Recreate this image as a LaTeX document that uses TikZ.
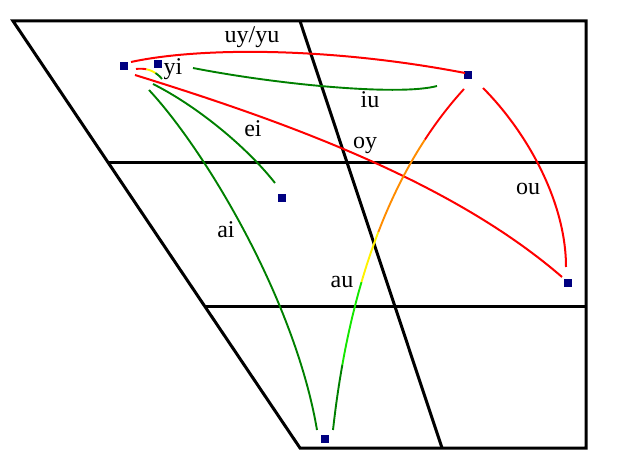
\documentclass[tikz,border=0pt]{standalone}
\usepackage{fontspec}
\setmainfont{Liberation Serif}
\usetikzlibrary{calc}

\definecolor{vowelblue}{RGB}{0,0,128}
\definecolor{glidegreen}{RGB}{0,128,0}
\definecolor{glidelime}{RGB}{20,230,0}
\definecolor{glideorange}{RGB}{255,140,0}

\tikzset{
    frame/.style={black, line width=3pt},
    vowel/.style={rectangle, fill=vowelblue, inner sep=0pt, minimum size=7.5pt},
    glide/.style={anchor=base, inner sep=0pt, font=\fontsize{24}{28}\selectfont},
    redglide/.style={red, line width=2pt},
    greenglide/.style={glidegreen, line width=1.9pt}
}

\begin{document}
\begin{tikzpicture}[x=1pt,y=-1pt]
    \useasboundingbox (0,0) rectangle (640,470);

    % quadrilateral
    \draw[frame, line join=miter] (13,21) -- (586,21) -- (586,448) -- (300,448) -- cycle;
    \draw[frame] (300,21) -- (442,448);
    \draw[frame] (108,163) -- (586,163);
    \draw[frame] (205,307) -- (586,307);

    % vowels
    \node[vowel] (i) at (124,66) {};
    \node[vowel] (y) at (158,64) {};
    \node[vowel] (u) at (468,75) {};
    \node[vowel] (e) at (282,198) {};
    \node[vowel] (o) at (568,283) {};
    \node[vowel] (a) at (325,439) {};

    % ends of the glides
    \coordinate (uy-s) at (131,62);  \coordinate (uy-e) at (465,73);
    \coordinate (iu-s) at (193,68);  \coordinate (iu-e) at (437,86);
    \coordinate (oy-s) at (135,75);  \coordinate (oy-e) at (562,277);
    \coordinate (ou-s) at (483,88);  \coordinate (ou-e) at (566,267);
    \coordinate (ei-s) at (153,84);  \coordinate (ei-e) at (275,183);
    \coordinate (ai-s) at (149,90);  \coordinate (ai-e) at (317,430);

    \draw[redglide] (uy-s) .. controls (200,47) and (330,47) .. (uy-e);
    \draw[greenglide] (iu-s) .. controls (280,85) and (400,96) .. (iu-e);
    \draw[redglide] (oy-s) .. controls (280,120) and (450,180) .. (oy-e);
    \draw[redglide] (ou-s) .. controls (525,130) and (566,200) .. (ou-e);
    \draw[greenglide] (ei-s) .. controls (195,105) and (245,145) .. (ei-e);
    \draw[greenglide] (ai-s) .. controls (205,150) and (295,300) .. (ai-e);

    % coloured glides
    \foreach \ta/\tb/\col in {0/0.2/red, 0.2/0.5/glideorange, 0.5/0.64/yellow, 0.64/0.85/glidelime, 0.85/1/glidegreen}
        \draw[line width=1.9pt, \col] plot[domain=\ta:\tb, samples=8, variable=\t, smooth]
            ({464*(1-\t)^2 + 716*\t*(1-\t) + 333*\t^2}, {89*(1-\t)^2 + 410*\t*(1-\t) + 430*\t^2});
    \foreach \ta/\tb/\col in {0/0.35/red, 0.35/0.7/yellow, 0.7/1/glidegreen}
        \draw[line width=1.9pt, \col] plot[domain=\ta:\tb, samples=6, variable=\t, smooth]
            ({136*(1-\t)^2 + 304*\t*(1-\t) + 162*\t^2}, {69*(1-\t)^2 + 134*\t*(1-\t) + 79*\t^2});

    % labels
    \node[glide] (uy) at (252,43) {uy/yu};
    \node[glide] (yi) at (173,75) {yi};
    \node[glide] (ei) at (253,137) {ei};
    \node[glide] (iu) at (370,108) {iu};
    \node[glide] (oy) at (365,149) {oy};
    \node[glide] (ou) at (528,195) {ou};
    \node[glide] (ai) at (226,238) {ai};
    \node[glide] (au) at (342,288) {au};
\end{tikzpicture}
\end{document}
